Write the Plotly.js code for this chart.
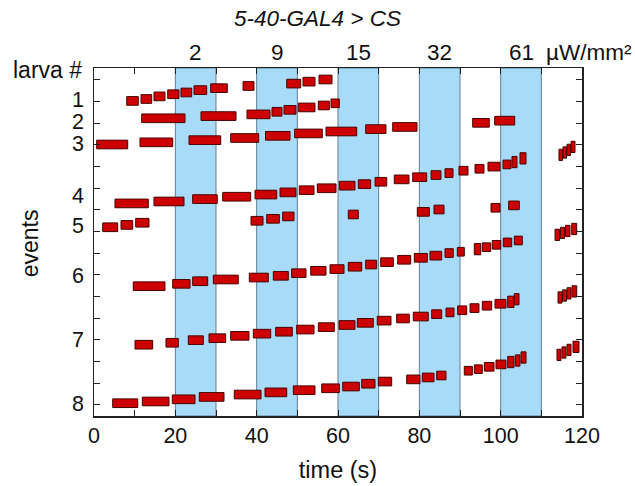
<!DOCTYPE html>
<html>
<head>
<meta charset="utf-8">
<script src="https://cdn.plot.ly/plotly-3.0.1.min.js"></script>
<style>html,body{margin:0;padding:0;background:#fff;}#chart{width:635px;height:486px;}</style>
</head>
<body>
<div id="chart"></div>
<script>
// ---- data: event start (s), end (s), level on the events axis ----
const larva1Start = [8.04, 11.56, 14.75, 18.12, 21.39, 24.59, 28.70, 36.64, 47.39, 51.39, 55.33];
const larva1End   = [10.89, 14.19, 17.46, 20.90, 24.02, 27.71, 32.78, 39.34, 50.83, 54.34, 58.52];
const larva1Level = [14.03, 14.12, 14.24, 14.34, 14.42, 14.53, 14.62, 14.72, 14.83, 14.92, 15.02];

const larva2Start = [11.73, 26.31, 37.62, 43.77, 46.72, 50.24, 55.16, 58.28];
const larva2End   = [22.38, 34.92, 43.28, 46.23, 49.67, 54.34, 57.86, 60.32];
const larva2Level = [13.23, 13.33, 13.41, 13.53, 13.62, 13.73, 13.82, 13.92];

const larva3Start = [0.66, 11.31, 23.36, 33.61, 42.17, 49.35, 57.05, 66.81, 73.45, 93.12, 98.53];
const larva3End   = [8.29, 19.35, 31.16, 40.50, 48.20, 56.14, 64.60, 71.80, 79.43, 97.20, 103.45];
const larva3Level = [12.02, 12.12, 12.22, 12.32, 12.42, 12.53, 12.62, 12.73, 12.83, 13.02, 13.12];

const larva4Start = [5.16, 14.75, 24.27, 31.65, 39.59, 45.74, 50.48, 54.91, 60.32, 64.99, 69.10, 73.84, 78.37, 82.87, 86.31, 89.75, 93.69, 96.88, 100.57, 102.79, 104.75, 114.34, 115.33, 116.31, 117.30];
const larva4End   = [13.35, 22.13, 30.32, 38.53, 44.93, 49.67, 54.10, 59.51, 64.18, 68.04, 71.98, 77.46, 81.81, 85.33, 88.28, 91.97, 95.90, 99.84, 102.54, 104.02, 106.23, 115.20, 116.20, 117.15, 118.28];
const larva4Level = [9.30, 9.39, 9.50, 9.61, 9.71, 9.81, 9.91, 10.00, 10.12, 10.19, 10.30, 10.41, 10.51, 10.61, 10.70, 10.81, 10.90, 11.00, 11.10, 11.21, 11.38, 11.54, 11.65, 11.77, 11.91];

const larva5Start = [2.14, 6.64, 10.25, 38.61, 42.47, 46.40, 62.53, 79.50, 83.61, 97.62, 101.97];
const larva5End   = [5.83, 9.52, 13.52, 41.56, 45.57, 49.18, 64.99, 82.45, 86.07, 99.84, 104.58];
const larva5Level = [8.20, 8.31, 8.41, 8.50, 8.59, 8.70, 8.79, 8.91, 9.02, 9.10, 9.21];

const larva6Start = [9.66, 19.35, 24.27, 29.34, 38.19, 44.09, 48.61, 53.29, 58.03, 62.53, 66.81, 70.50, 74.68, 78.76, 82.62, 86.31, 89.34, 93.52, 95.48, 97.94, 100.65, 103.35, 113.36, 114.71, 115.94, 117.47];
const larva6End   = [17.46, 23.61, 27.96, 35.48, 42.86, 47.78, 52.13, 57.05, 61.48, 65.83, 69.51, 73.60, 77.88, 81.96, 85.50, 88.35, 91.06, 95.09, 97.55, 100.01, 102.71, 105.32, 114.47, 115.70, 117.05, 118.70];
const larva6Level = [5.48, 5.59, 5.71, 5.79, 5.88, 5.96, 6.08, 6.19, 6.27, 6.38, 6.48, 6.59, 6.70, 6.79, 6.89, 7.01, 7.07, 7.19, 7.28, 7.39, 7.50, 7.59, 7.85, 7.94, 8.03, 8.12];

const larva7Start = [10.08, 17.70, 23.19, 28.28, 33.61, 39.17, 44.68, 49.84, 55.16, 60.25, 64.75, 69.66, 74.43, 78.51, 83.04, 86.56, 89.43, 92.46, 95.48, 98.61, 101.73, 103.35, 114.10, 115.20, 116.31, 117.54];
const larva7End   = [14.43, 20.73, 26.88, 32.38, 38.11, 43.45, 48.76, 54.10, 59.09, 64.18, 68.68, 73.03, 77.53, 82.20, 85.50, 88.52, 91.65, 94.67, 97.79, 101.31, 103.28, 104.51, 115.08, 116.19, 117.30, 118.70];
const larva7Level = [2.78, 2.87, 2.99, 3.08, 3.19, 3.29, 3.38, 3.48, 3.59, 3.69, 3.79, 3.89, 3.99, 4.08, 4.19, 4.27, 4.37, 4.47, 4.58, 4.67, 4.76, 4.88, 4.96, 5.05, 5.15, 5.24];

const larva8Start = [4.60, 11.88, 19.25, 25.89, 34.50, 42.05, 49.01, 55.99, 61.16, 65.83, 69.91, 76.89, 80.73, 84.27, 91.06, 93.52, 95.98, 98.85, 101.73, 103.60, 105.00, 113.85, 115.08, 116.31, 117.79];
const larva8End   = [10.75, 18.44, 24.84, 31.97, 41.07, 47.39, 54.34, 60.32, 65.24, 69.10, 73.20, 80.16, 83.61, 86.56, 93.03, 95.48, 98.36, 101.31, 103.28, 104.75, 106.23, 114.83, 116.06, 117.30, 119.26];
const larva8Level = [0.08, 0.16, 0.26, 0.37, 0.48, 0.58, 0.68, 0.77, 0.85, 0.98, 1.08, 1.18, 1.27, 1.36, 1.58, 1.65, 1.76, 1.87, 1.98, 2.05, 2.19, 2.31, 2.42, 2.54, 2.68];

const larvaLabels = ['1', '2', '3', '4', '5', '6', '7', '8'];
const larvaLabelLevel = [14.07, 13.06, 12.05, 9.65, 8.26, 5.95, 3.0, 0.05];

const stimStart = [20, 40, 60, 80, 100];
const stimEnd   = [30, 50, 70, 90, 110];
const stimIntensity = ['2', '9', '15', '32', '61'];

const xTicks = [0, 10, 20, 30, 40, 50, 60, 70, 80, 90, 100, 110, 120];
const xTickText = ['0', '', '20', '', '40', '', '60', '', '80', '', '100', '', '120'];
const yTicks = [0, 1, 2, 3, 4, 5, 6, 7, 8, 9, 10, 11, 12, 13, 14, 15];

// ---- build ----
const FONT = 'Liberation Sans, Arial, sans-serif';
const INK = '#111';
const starts = [larva1Start, larva2Start, larva3Start, larva4Start, larva5Start, larva6Start, larva7Start, larva8Start];
const ends   = [larva1End, larva2End, larva3End, larva4End, larva5End, larva6End, larva7End, larva8End];
const levels = [larva1Level, larva2Level, larva3Level, larva4Level, larva5Level, larva6Level, larva7Level, larva8Level];

const traces = starts.map((s, i) => {
  const dur = s.map((v, j) => ends[i][j] - v);
  return {
    type: 'bar', orientation: 'h', name: 'larva ' + larvaLabels[i],
    base: s, x: dur, y: levels[i],
    width: dur.map(d => d < 1.6 ? 0.52 : 0.4),
    marker: {color: '#cc0000', line: {color: '#4a0000', width: 1}},
    hoverinfo: 'skip', showlegend: false
  };
});

const shapes = stimStart.map((s, i) => ({
  type: 'rect', xref: 'x', yref: 'paper', x0: s, x1: stimEnd[i], y0: 0, y1: 1,
  fillcolor: '#a8dbf7', line: {color: '#627f92', width: 1}, layer: 'below'
}));

const annotations = [];
stimStart.forEach((s, i) => annotations.push({
  xref: 'x', yref: 'paper', x: (s + stimEnd[i]) / 2, y: 1, yanchor: 'bottom', yshift: 1,
  text: stimIntensity[i], showarrow: false, font: {family: FONT, size: 22.5, color: INK}
}));
annotations.push({xref: 'paper', yref: 'paper', x: 0.922, y: 1, xanchor: 'left', yanchor: 'bottom', yshift: 1,
  text: 'µW/mm²', showarrow: false, font: {family: FONT, size: 22.5, color: INK}});
annotations.push({xref: 'paper', yref: 'paper', x: -0.095, y: 1, xanchor: 'center', yanchor: 'middle', yshift: -2,
  text: 'larva #', showarrow: false, font: {family: FONT, size: 23, color: INK}});
larvaLabels.forEach((t, i) => annotations.push({
  xref: 'paper', yref: 'y', x: -0.032, y: larvaLabelLevel[i], xanchor: 'center', yanchor: 'middle',
  text: t, showarrow: false, font: {family: FONT, size: 21.5, color: INK}
}));
annotations.push({xref: 'paper', yref: 'paper', x: -0.132, y: 0.495, xanchor: 'center', yanchor: 'middle',
  text: 'events', textangle: -90, showarrow: false, font: {family: FONT, size: 23, color: INK}});

const layout = {
  width: 635, height: 486,
  margin: {l: 94, r: 53, t: 68, b: 70, pad: 0},
  paper_bgcolor: '#ffffff', plot_bgcolor: '#ffffff',
  barmode: 'overlay',
  title: {text: '<i>5-40-GAL4 > CS</i>', xref: 'container', yref: 'container', x: 0.5, y: 0.963,
          xanchor: 'center', yanchor: 'middle', font: {family: FONT, size: 22.5, color: INK}},
  xaxis: {range: [0, 120], tickmode: 'array', tickvals: xTicks, ticktext: xTickText,
          ticks: 'inside', ticklen: 6, tickwidth: 1, tickcolor: '#222',
          showline: true, linecolor: '#222', linewidth: 1.5, mirror: 'ticks',
          showgrid: false, zeroline: false,
          tickfont: {family: FONT, size: 21.5, color: INK},
          title: {text: 'time (s)', standoff: 14, font: {family: FONT, size: 23.5, color: INK}}},
  yaxis: {range: [-0.51, 15.55], tickmode: 'array', tickvals: yTicks, showticklabels: false,
          ticks: 'inside', ticklen: 6, tickwidth: 1, tickcolor: '#222',
          showline: true, linecolor: '#222', linewidth: 1.5, mirror: 'ticks',
          showgrid: false, zeroline: false},
  shapes: shapes,
  annotations: annotations,
  showlegend: false
};

Plotly.newPlot('chart', traces, layout, {displayModeBar: false, staticPlot: true});
</script>
</body>
</html>
